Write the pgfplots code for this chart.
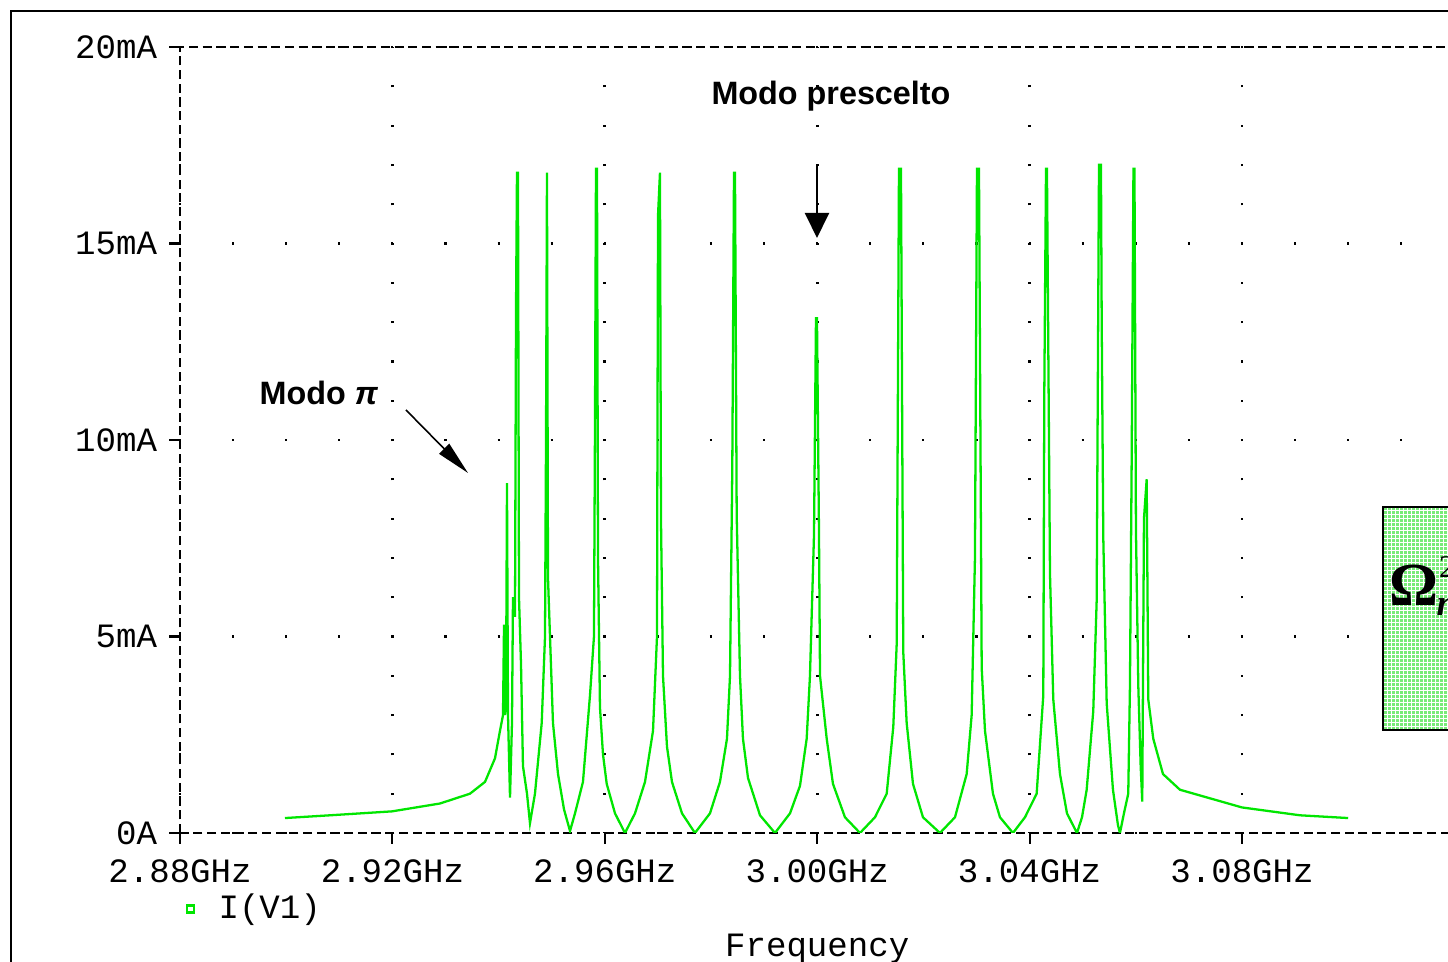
\documentclass[border=0pt]{standalone}
\usepackage{pgfplots}
\pgfplotsset{compat=1.18}
\usepackage{fontspec}
\setmainfont{Liberation Sans}
\setmonofont{Liberation Mono}
\newfontfamily\serifont{Liberation Serif}
\usetikzlibrary{arrows.meta}
\definecolor{trace}{RGB}{0,230,0}
\definecolor{boxgreen}{RGB}{120,235,120}
\newcommand{\tl}{\ttfamily\fontsize{9.7}{11}\selectfont}
\begin{document}
\begin{tikzpicture}[x=1cm,y=1cm]
\useasboundingbox (0,0) rectangle (14.48,9.62);
\clip (0,0) rectangle (14.48,9.62);
\fill[white] (0,0) rectangle (14.48,9.62);
\draw[line width=0.6pt] (0.11,-0.1) -- (0.11,9.51) -- (14.6,9.51);
\begin{axis}[
  scale only axis, width=12.744cm, height=7.86cm,
  at={(1.80cm,1.29cm)}, anchor=south west,
  xmin=2880, xmax=3120, ymin=0, ymax=20,
  xtick={2880,2920,2960,3000,3040,3080},
  xticklabels={2.88GHz,2.92GHz,2.96GHz,3.00GHz,3.04GHz,3.08GHz},
  ytick={0,5,10,15,20},
  yticklabels={0A,5mA,10mA,15mA,20mA},
  xtick pos=bottom, ytick pos=left,
  tick align=outside,
  major tick length=3pt,
  tick style={black, line width=0.6pt},
  ticklabel style={font=\tl},
  xticklabel style={yshift=-1.1pt},
  axis line style={line width=0.6pt},
  x axis line style={dash pattern=on 3.7pt off 2pt},
  y axis line style={dash pattern=on 2.6pt off 1.3pt},
  grid=major,
  major x grid style={black, line width=0.8pt, dash pattern=on 0.6pt off 10.58pt, dash phase=0.3pt},
  major y grid style={black, line width=0.8pt, dash pattern=on 0.6pt off 14.508pt, dash phase=0.3pt},
  xlabel={Frequency},
  xlabel style={at={(rel axis cs:0.5,-0.1476)}, anchor=center, font=\tl},
  legend style={at={(rel axis cs:-0.0094,-0.0967)}, anchor=west, draw=none, fill=none, font=\tl},
  legend image code/.code={\draw[trace, line width=0.6pt] (0.07cm,-0.035cm) rectangle (0.14cm,0.035cm); \path (0,0) (0.3cm,0);},
]
\addplot[trace, line width=0.65pt] coordinates {
(2899.77,0.38) (2908.25,0.45) (2919.92,0.55) (2928.96,0.75) (2934.61,1.0) (2937.44,1.3)
(2939.32,1.9) (2940.26,2.6) (2940.83,3.0) (2941.02,5.3) (2941.20,3.0) (2941.39,3.2)
(2941.58,8.9) (2941.77,3.0) (2942.15,0.9) (2942.52,2.8) (2942.71,6.0) (2943.09,5.5)
(2943.28,13.3) (2943.46,16.8) (2943.65,16.8) (2943.84,6.0) (2944.22,4.3) (2944.59,1.7)
(2945.35,1.0) (2945.91,0.25) (2946.85,1.0) (2948.12,2.8) (2948.74,5.0) (2948.93,10.0)
(2949.11,16.8) (2949.30,6.5) (2949.68,5.0) (2950.24,2.8) (2951.19,1.5) (2952.32,0.6)
(2953.45,0.05) (2954.39,0.5) (2955.89,1.3) (2957.21,3.5) (2957.96,5.0) (2958.15,10.3)
(2958.34,16.9) (2958.53,16.9) (2958.72,7.0) (2959.09,3.2) (2959.66,2.0) (2960.36,1.25)
(2961.92,0.5) (2963.80,0.0) (2965.69,0.5) (2967.57,1.3) (2969.08,2.6) (2969.83,5.0)
(2970.02,15.7) (2970.39,16.8) (2970.58,8.0) (2970.96,4.0) (2971.71,2.2) (2972.65,1.3)
(2974.54,0.5) (2976.98,0.0) (2979.81,0.5) (2981.69,1.3) (2983.01,2.4) (2983.58,4.0)
(2984.01,9.3) (2984.33,16.8) (2984.52,16.8) (2984.84,8.1) (2985.46,4.0) (2986.02,2.4)
(2986.97,1.4) (2989.23,0.45) (2992.05,0.0) (2994.88,0.5) (2996.76,1.2) (2998.02,2.4)
(2998.64,4.0) (2999.40,7.6) (2999.77,13.1) (2999.96,13.1) (3000.34,7.6) (3000.53,4.0)
(3001.79,2.4) (3002.97,1.25) (3005.23,0.4) (3008.06,0.0) (3010.88,0.4) (3013.09,1.0)
(3014.33,2.7) (3014.97,4.8) (3015.40,16.9) (3015.78,16.9) (3016.21,4.6) (3016.85,2.8)
(3018.04,1.25) (3019.92,0.4) (3023.12,0.0) (3025.95,0.4) (3028.15,1.5) (3029.09,3.0)
(3029.71,7.0) (3030.09,16.9) (3030.47,16.9) (3030.98,4.2) (3031.60,2.6) (3033.10,1.0)
(3034.42,0.4) (3036.87,0.0) (3039.13,0.4) (3041.33,1.0) (3042.58,3.5) (3042.77,11.2)
(3043.09,16.9) (3043.27,16.9) (3043.84,6.6) (3044.46,3.4) (3045.72,1.5) (3047.04,0.5)
(3048.92,0.0) (3049.87,0.4) (3050.75,1.1) (3051.99,3.1) (3052.63,5.9) (3053.07,17.0)
(3053.44,17.0) (3053.58,13.0) (3053.88,7.5) (3054.52,3.3) (3055.70,1.1) (3056.64,0.2)
(3057.02,0.0) (3057.77,0.5) (3058.58,1.0) (3058.90,3.75) (3059.22,9.4) (3059.56,16.9)
(3059.75,16.9) (3060.03,7.7) (3060.47,3.75) (3060.92,1.7) (3061.22,0.8) (3061.54,8.0)
(3062.05,9.0) (3062.35,3.4) (3063.29,2.4) (3065.12,1.5) (3068.32,1.1) (3080.00,0.65)
(3090.92,0.45) (3100.00,0.38)
};
\addlegendentry{I(V1)}
\end{axis}
% annotations
\node[font=\bfseries\fontsize{9.2}{11}\selectfont] at (8.31,8.66) {Modo prescelto};
\draw[line width=0.6pt, -{Triangle[width=0.24cm,length=0.25cm]}] (8.17,7.97) -- (8.17,7.24);
\node[font=\bfseries\fontsize{9.2}{11}\selectfont] at (3.19,5.69) {Modo \textit{π}};
\draw[line width=0.45pt, -{Triangle[width=0.14cm,length=0.34cm]}] (4.06,5.52) -- (4.68,4.89);
% green box
\fill[boxgreen] (13.83,2.32) rectangle (14.7,4.55);
\draw[white, line width=0.25pt, step=0.04] (13.83,2.32) grid (14.7,4.55);
\draw[black, line width=0.6pt] (13.83,2.32) rectangle (14.7,4.55);
\node[font=\serifont\bfseries\fontsize{17.4}{18}\selectfont] at (14.14,3.77) {Ω};
\node[font=\serifont\fontsize{9}{10}\selectfont] at (14.47,3.95) {2};
\node[font=\serifont\bfseries\itshape\fontsize{10.5}{11}\selectfont] at (14.47,3.55) {n};
\end{tikzpicture}
\end{document}
